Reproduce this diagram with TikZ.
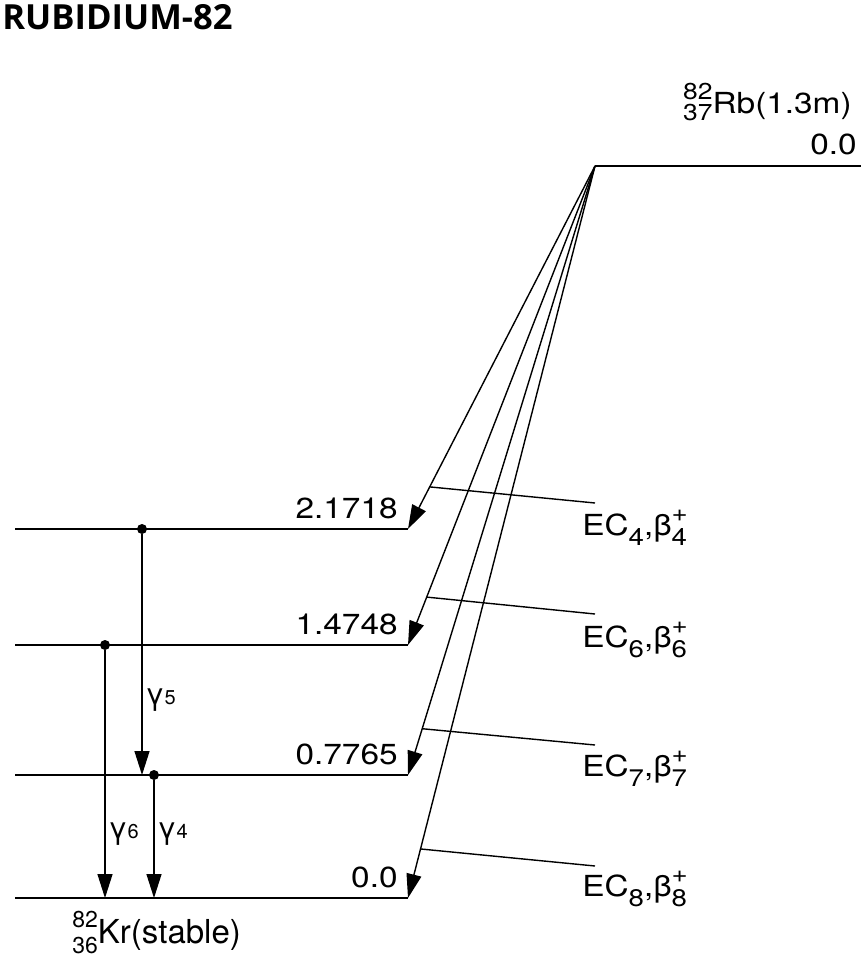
\documentclass[tikz,border=0pt]{standalone}
\usepackage{fontspec}
\setmainfont{TeX Gyre Heros}
\newfontfamily\widefont[FakeStretch=1.15]{TeX Gyre Heros}
\newfontfamily\titlefont{Open Sans}
\usetikzlibrary{arrows.meta,calc}
\newcommand\ecbeta[1]{EC\raisebox{-5pt}{\fontsize{12}{12}\selectfont #1},β\makebox[0pt][l]{\raisebox{7pt}{\fontsize{12}{12}\selectfont +}}\raisebox{-5pt}{\fontsize{12}{12}\selectfont #1}}
\newcommand\gline[1]{γ{\fontsize{10}{10}\selectfont #1}}
\tikzset{
  lvl/.style={line width=0.9pt},
  dk/.style={-{Triangle[length=12pt,width=7.5pt]}, line width=0.7pt},
  gam/.style={dk},
  tag/.style={line width=0.7pt},
  lbl/.style={font=\widefont\fontsize{14.5}{17}\selectfont, inner sep=0pt},
  glbl/.style={font=\fontsize{15}{17}\selectfont, inner sep=0pt, anchor=base west},
  ttl/.style={font=\titlefont\bfseries\fontsize{17.3}{20}\selectfont, inner sep=0pt},
  dot/.style={circle, fill, inner sep=0pt, minimum size=5pt}
}
\begin{document}
\begin{tikzpicture}[x=0.5pt, y=-0.5pt]
  \useasboundingbox (0,0) rectangle (861,963);
  \node[ttl, anchor=base west] (title) at (2,30) {RUBIDIUM-82};
  % parent level
  \coordinate (rb) at (595,166);
  \coordinate (rbend) at (861,166);
  \draw[lvl] (rb) -- (rbend);
  \node[lbl, anchor=base east] (rbe) at (857,155) {0.0};
  \node[lbl, anchor=base east] (rbn) at (852,113)
    {\makebox[0pt][l]{\raisebox{7pt}{\fontsize{11.5}{12}\selectfont 82}}\raisebox{-3.5pt}{\fontsize{11.5}{12}\selectfont 37}Rb(1.3m)};
  % daughter levels and feeding
  \foreach \n/\y/\e in {a/529/2.1718, b/645/1.4748, c/775/0.7765, d/898/0.0}{
    \coordinate (\n0) at (15,\y);
    \coordinate (\n1) at (408,\y);
    \draw[lvl] (\n0) -- (\n1);
    \node[lbl, anchor=base east] (\n e) at (398,\y-11) {\e};
    \draw[dk] (rb) -- (\n1);
  }
  \foreach \n/\f/\k/\by/\ty in {a/0.884/4/535/503, b/0.90/6/647/614, c/0.924/7/776/745, d/0.933/8/896/866}{
    \coordinate (\n t) at (595,\ty);
    \draw[tag] ($(rb)!\f!(\n1)$) -- (\n t);
    \node[lbl, anchor=base west] (\n ec) at (582,\by) {\ecbeta{\k}};
  }
  % gammas
  \node[dot] (g5) at (142,529) {};
  \coordinate (g5e) at (142,775);
  \draw[gam] (g5) -- (g5e);
  \node[dot] (g6) at (105,645) {};
  \coordinate (g6e) at (105,898);
  \draw[gam] (g6) -- (g6e);
  \node[dot] (g4) at (154,775) {};
  \coordinate (g4e) at (154,898);
  \draw[gam] (g4) -- (g4e);
  \node[glbl] (g5l) at (145,704) {\gline{5}};
  \node[glbl] (g6l) at (108,838) {\gline{6}};
  \node[glbl] (g4l) at (157,838) {\gline{4}};
  \node[glbl, font=\fontsize{16.5}{19}\selectfont] (kr) at (72,943)
    {\makebox[0pt][l]{\raisebox{8pt}{\fontsize{11.5}{12}\selectfont 82}}\raisebox{-5pt}{\fontsize{11.5}{12}\selectfont 36}Kr(stable)};
\end{tikzpicture}
\end{document}
